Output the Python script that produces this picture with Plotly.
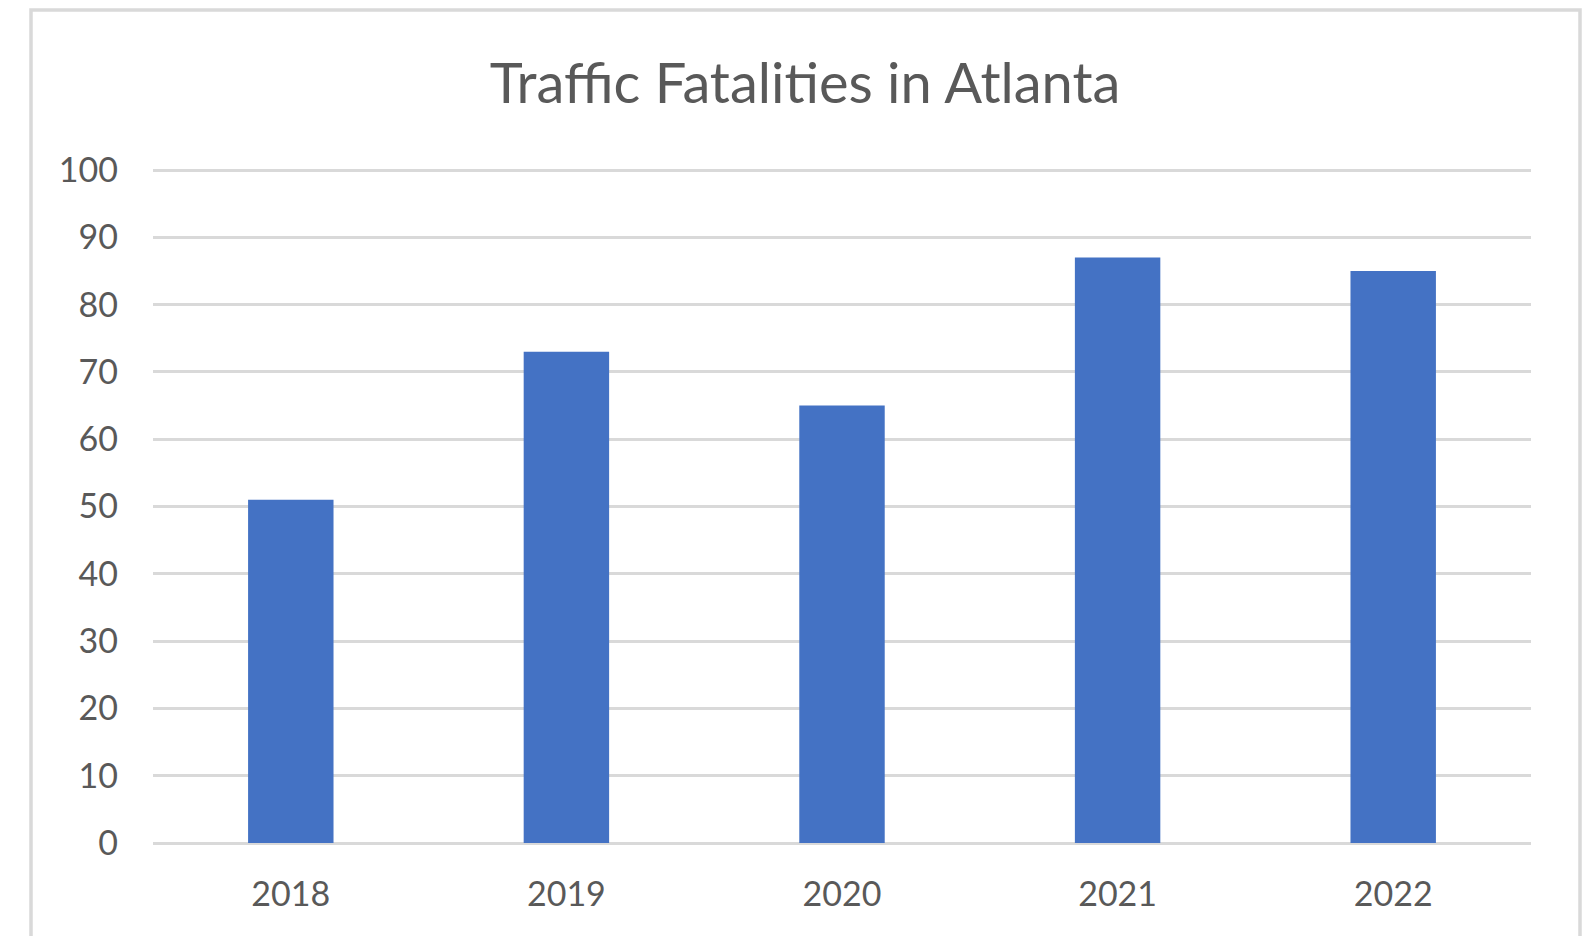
import plotly.graph_objects as go

years = ["2018", "2019", "2020", "2021", "2022"]
fatalities = [51, 73, 65, 87, 85]
y_ticks = [0, 10, 20, 30, 40, 50, 60, 70, 80, 90, 100]
title_text = "Traffic Fatalities in Atlanta"

W, H = 1592, 936
OFF = 8  # default page body margin
# target plot area in page pixels
PX0, PX1, PY100, PY0 = 153, 1531, 169, 843
L = PX0 - OFF
R = W - (PX1 - OFF)
T = PY100 - OFF
B = H - (PY0 - OFF)
pw, ph = W - L - R, H - T - B
YMAX = 100.15

font_family = "Lato"
text_color = "#595959"
grid_color = "#D9D9D9"

fig = go.Figure()
fig.add_trace(go.Bar(
    x=years, y=fatalities,
    marker=dict(color="#4472C4", line=dict(width=0)),
    width=0.31,
))

def px_x(x):
    return (x - OFF - L) / pw

def px_y(y):
    return (H - B - (y - OFF)) / ph

fig.update_layout(
    width=W, height=H,
    margin=dict(l=L, r=R, t=T, b=B, pad=0),
    paper_bgcolor="white", plot_bgcolor="white",
    showlegend=False,
    title=dict(text=title_text, x=(805 - OFF) / W, xanchor="center",
               y=1 - (83 - OFF) / H, yanchor="middle", yref="container",
               font=dict(family=font_family, size=56, color=text_color)),
    font=dict(family=font_family, color=text_color),
    bargap=0.69,
    xaxis=dict(showgrid=False, showline=False, zeroline=False,
               tickfont=dict(size=34, color=text_color),
               ticks="", ticklabelstandoff=28, fixedrange=True),
    yaxis=dict(range=[0, YMAX], tickvals=y_ticks, showgrid=True,
               gridcolor=grid_color, gridwidth=2.5,
               zeroline=True, zerolinecolor=grid_color, zerolinewidth=3,
               showline=False, ticks="", ticklabelstandoff=34,
               tickfont=dict(size=34, color=text_color), fixedrange=True),
    shapes=[dict(type="rect", xref="paper", yref="paper",
                 x0=px_x(31), x1=px_x(1580), y0=px_y(990), y1=px_y(10),
                 line=dict(color=grid_color, width=3.5), layer="below")],
)

fig.write_html("out.html")
